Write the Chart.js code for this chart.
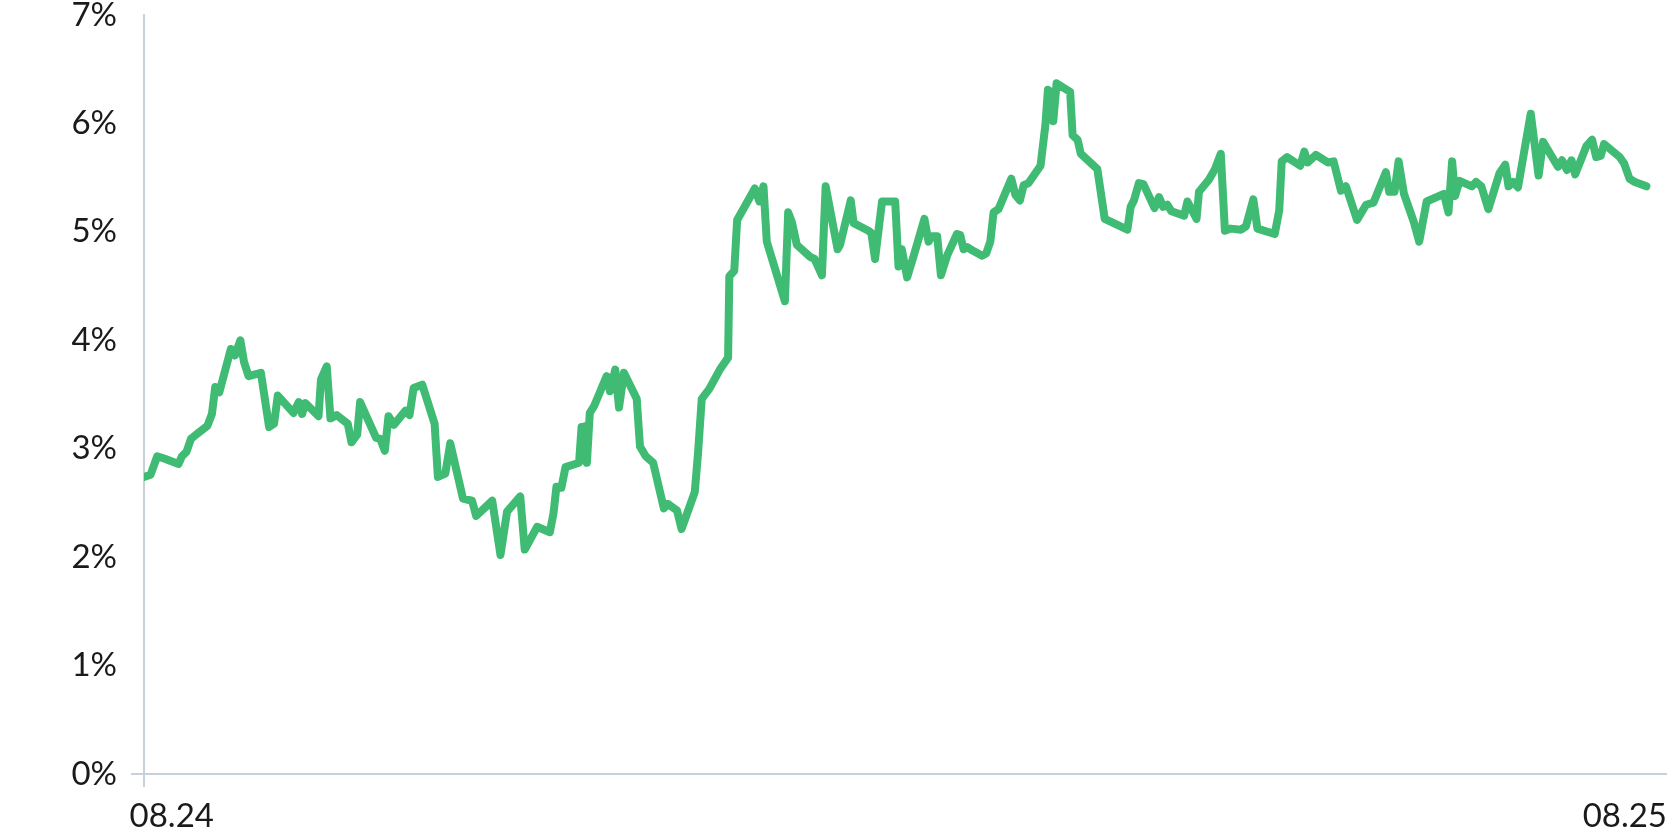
<!DOCTYPE html>
<html>
<head>
<meta charset="utf-8">
<script src="https://cdn.jsdelivr.net/npm/chart.js@4"></script>
<style>
    html, body { margin: 0; padding: 0; background: #fff; }
    .chart { width: 1667px; height: 833px; position: relative; }
</style>
</head>
<body>
<div class="chart"><canvas id="rateChart"></canvas></div>
<script>
// days since the start of 08.24
const days = [
    0.0, 1.6, 3.2, 4.9, 8.4, 9.2, 10.3, 11.4, 13.0, 15.4, 16.5, 17.3, 18.3, 21.1, 22.1, 23.4, 24.3, 25.4, 28.4, 30.4,
    31.6, 32.5, 36.3, 37.6, 38.4, 39.2, 42.4, 43.0, 44.4, 45.3, 46.8, 49.5, 50.4, 51.8, 52.5, 56.4, 57.4, 58.5, 59.4, 60.7,
    63.5, 64.5, 65.5, 67.6, 70.6, 71.4, 73.2, 74.4, 77.5, 79.7, 80.7, 84.6, 86.6, 88.2, 91.4, 92.5, 95.5, 98.6, 99.5, 100.2,
    101.4, 102.4, 105.7, 106.3, 106.8, 107.3, 107.6, 108.3, 109.3, 112.4, 113.2, 114.5, 115.4, 116.6, 119.7, 120.5, 121.9, 123.7, 126.3, 127.3,
    129.5, 130.6, 133.8, 134.6, 135.5, 137.3, 139.9, 141.9, 142.2, 143.4, 144.1, 148.4, 149.5, 150.5, 151.3, 155.7, 156.5, 157.4, 158.6, 161.8,
    162.9, 164.7, 165.6, 168.5, 169.1, 171.7, 172.4, 176.0, 176.7, 177.6, 179.3, 182.5, 183.3, 184.1, 185.4, 187.0, 189.6, 190.6, 191.4, 192.7,
    193.6, 195.1, 197.5, 198.3, 199.1, 200.0, 201.2, 203.6, 204.6, 205.6, 206.4, 207.6, 210.7, 211.7, 212.8, 213.7, 214.9, 217.8, 219.0, 219.6,
    220.4, 220.9, 221.7, 225.0, 225.6, 226.8, 227.6, 231.6, 233.4, 238.9, 239.7, 240.5, 241.7, 242.8, 245.5, 246.6, 247.6, 248.6, 249.6, 252.7,
    253.5, 255.7, 256.3, 258.7, 260.2, 261.6, 262.6, 264.0, 266.5, 267.7, 269.5, 270.5, 274.7, 275.8, 276.4, 277.7, 280.9, 281.9, 282.7, 284.7,
    287.6, 289.0, 290.8, 292.0, 294.7, 296.9, 298.7, 301.7, 302.5, 303.8, 304.8, 306.1, 308.5, 309.8, 311.6, 315.8, 316.9, 317.8, 318.5, 319.6,
    322.6, 323.6, 324.9, 326.6, 329.3, 330.7, 331.5, 332.6, 333.8, 336.9, 338.8, 339.9, 343.5, 344.5, 345.7, 346.8, 347.7, 350.4, 351.8, 352.8,
    353.9, 354.7, 358.5, 359.6, 360.9, 362.2, 365.0
];

// rate, %
const rates = [
    2.74, 2.76, 2.93, 2.91, 2.86, 2.93, 2.97, 3.09, 3.14, 3.21, 3.32, 3.57, 3.52, 3.92, 3.86, 4.00, 3.80, 3.67, 3.70, 3.20,
    3.23, 3.49, 3.33, 3.43, 3.32, 3.42, 3.30, 3.64, 3.76, 3.28, 3.31, 3.23, 3.06, 3.13, 3.43, 3.10, 3.09, 2.98, 3.30, 3.22,
    3.35, 3.31, 3.56, 3.59, 3.23, 2.74, 2.77, 3.05, 2.54, 2.52, 2.38, 2.52, 2.02, 2.42, 2.56, 2.07, 2.28, 2.23, 2.41, 2.65,
    2.64, 2.83, 2.87, 3.20, 2.92, 3.21, 2.87, 3.33, 3.39, 3.67, 3.53, 3.73, 3.38, 3.70, 3.46, 3.02, 2.93, 2.87, 2.45, 2.49,
    2.43, 2.26, 2.60, 2.96, 3.46, 3.55, 3.73, 3.84, 4.59, 4.64, 5.11, 5.40, 5.28, 5.42, 4.91, 4.36, 5.18, 5.09, 4.88, 4.77,
    4.75, 4.60, 5.42, 4.84, 4.88, 5.29, 5.08, 5.01, 4.99, 4.75, 5.28, 5.28, 4.68, 4.84, 4.58, 4.78, 5.12, 4.91, 4.96, 4.96,
    4.60, 4.78, 4.98, 4.97, 4.84, 4.86, 4.83, 4.78, 4.80, 4.91, 5.18, 5.21, 5.49, 5.34, 5.29, 5.43, 5.45, 5.61, 5.99, 6.31,
    6.29, 6.02, 6.37, 6.29, 5.89, 5.85, 5.72, 5.58, 5.12, 5.02, 5.23, 5.29, 5.45, 5.44, 5.22, 5.32, 5.23, 5.25, 5.19, 5.15,
    5.28, 5.12, 5.37, 5.48, 5.58, 5.72, 5.01, 5.03, 5.02, 5.05, 5.30, 5.03, 4.98, 5.20, 5.65, 5.69, 5.61, 5.74, 5.64, 5.71,
    5.64, 5.65, 5.38, 5.42, 5.11, 5.25, 5.27, 5.55, 5.37, 5.37, 5.65, 5.35, 5.09, 4.91, 5.28, 5.35, 5.18, 5.65, 5.33, 5.47,
    5.42, 5.46, 5.42, 5.21, 5.54, 5.62, 5.42, 5.46, 5.41, 6.09, 5.52, 5.83, 5.60, 5.66, 5.57, 5.66, 5.53, 5.79, 5.85, 5.69,
    5.70, 5.81, 5.69, 5.63, 5.49, 5.46, 5.42
];

// '' marks the origin tick, which has a tick mark but no text
const tickLabels = ['08.24', '', '08.25'];
const dayMax = 370;

const axisColor = '#c8d0da';
const textColor = '#1a1a1a';
const font = { family: 'Lato', size: 33, weight: 400 };

const ctx = document.getElementById('rateChart').getContext('2d');

const rateChart = new Chart(ctx, {
    type: 'line',
    data: {
        datasets: [{
            data: days.map((d, i) => ({ x: d, y: rates[i] })),
            borderColor: '#3fbb74',
            borderWidth: 8,
            borderJoinStyle: 'round',
            borderCapStyle: 'round',
            pointRadius: 0,
            tension: 0,
            fill: false,
        }]
    },
    options: {
        responsive: true,
        maintainAspectRatio: false,
        animation: false,
        layout: {
            padding: { top: 15, right: 0, bottom: 0, left: 0 }
        },
        plugins: {
            legend: { display: false },
            tooltip: { enabled: false },
        },
        scales: {
            x: {
                type: 'linear',
                min: 0,
                max: dayMax,
                afterFit: (axis) => {
                    axis.height = 59;
                    axis.paddingLeft = 0;
                    axis.paddingRight = 0;
                },
                border: { display: true, color: axisColor, width: 2 },
                grid: {
                    drawOnChartArea: false,
                    drawTicks: true,
                    tickLength: 13,
                    lineWidth: 2,
                    // only the origin gets a tick, so the y-axis seems to run past the x-axis
                    color: (c) => c.index === 1 ? axisColor : 'rgba(0,0,0,0)',
                },
                afterBuildTicks: (axis) => {
                    // first label sits a little left of the origin
                    axis.ticks = [{ value: axis.min - 3.5 }, { value: axis.min }, { value: axis.max }];
                },
                ticks: {
                    autoSkip: false,
                    maxRotation: 0,
                    align: 'inner',
                    padding: 10,
                    color: textColor,
                    font: font,
                    callback: (value, index) => tickLabels[index],
                }
            },
            y: {
                min: 0,
                max: 7,
                afterFit: (axis) => {
                    axis.width = 144;
                    axis.paddingTop = 0;
                    axis.paddingBottom = 0;
                },
                border: { display: true, color: axisColor, width: 2 },
                grid: {
                    drawOnChartArea: false,
                    drawTicks: true,
                    tickLength: 13,
                    lineWidth: 2,
                    color: (c) => c.tick.value === 0 ? axisColor : 'rgba(0,0,0,0)',
                },
                ticks: {
                    stepSize: 1,
                    padding: 14,
                    color: textColor,
                    font: font,
                    callback: (value) => value + '%',
                }
            }
        }
    }
});
</script>
</body>
</html>
